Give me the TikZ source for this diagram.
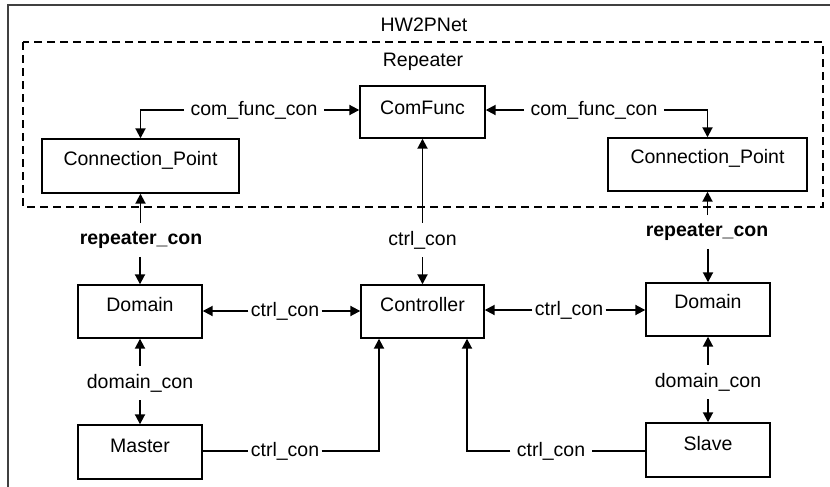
\documentclass[tikz,border=0pt]{standalone}
\usepackage{fontspec}
\setmainfont{Liberation Sans}
\usetikzlibrary{arrows.meta}
\begin{document}
\begin{tikzpicture}[x=0.5pt,y=-0.5pt,
  font=\fontsize{9.75}{11.7}\selectfont,
  box/.style={draw, line width=0.7pt, inner sep=0pt},
  txt/.style={inner sep=0pt},
  lbl/.style={inner xsep=3pt, inner ysep=4pt},
  lblt/.style={inner xsep=1pt, inner ysep=4pt},
  conn/.style={line width=0.95pt},
  arr/.style={conn, -{Triangle[length=5pt,width=5pt]}}
]
\useasboundingbox (0,0) rectangle (830,487);
\clip (0,0) rectangle (830,487);
% frames
\draw[line width=1pt, draw=black!75] (8,5) rectangle (850,510);
\node[txt] (tHW) at (424,25) {HW2PNet};
\draw[dashed, line width=0.65pt, dash pattern=on 4pt off 2.5pt] (23,42) rectangle (823,207);
\node[txt] (tRep) at (423,62) {Repeater};
% boxes
\node[box, minimum width=62.5pt, minimum height=26pt] (cf) at (422.5,112) {};
\node[txt] (tcf) at (422.5,108) {ComFunc};
\node[box, minimum width=98.5pt, minimum height=27pt] (cpl) at (140.5,166) {};
\node[txt] (tcpl) at (140.5,160) {Connection\_Point};
\node[box, minimum width=99.5pt, minimum height=26.5pt] (cpr) at (707.5,164.5) {};
\node[txt] (tcpr) at (707.5,158) {Connection\_Point};
\node[box, minimum width=62pt, minimum height=26.5pt] (dl) at (140,311.5) {};
\node[txt] (tdl) at (140,305) {Domain};
\node[box, minimum width=61.5pt, minimum height=26.5pt] (ct) at (422.5,311.5) {};
\node[txt] (tct) at (422.5,305) {Controller};
\node[box, minimum width=62pt, minimum height=26.5pt] (dr) at (708,309.5) {};
\node[txt] (tdr) at (708,302) {Domain};
\node[box, minimum width=62pt, minimum height=27pt] (ms) at (140,452) {};
\node[txt] (tms) at (140,446) {Master};
\node[box, minimum width=62pt, minimum height=27pt] (sl) at (708,450) {};
\node[txt] (tsl) at (708,444) {Slave};
% com_func_con
\node[lbl] (l1) at (254,110) {com\_func\_con};
\draw[arr] (l1.west) -| (cpl.north);
\draw[arr] (l1.east) -- (l1.east -| cf.west);
\node[lbl] (l2) at (594,110) {com\_func\_con};
\draw[arr] (l2.west) -- (l2.west -| cf.east);
\draw[arr] (l2.east) -| (cpr.north);
% repeater_con
\node[lbl, font=\fontsize{9.75}{11.7}\selectfont\bfseries] (r1) at (141,240) {repeater\_con};
\draw[arr] (r1.north -| cpl.south) -- (cpl.south);
\draw[arr] (r1.south -| dl.north) -- (dl.north);
\node[lbl, font=\fontsize{9.75}{11.7}\selectfont\bfseries] (r2) at (707,232) {repeater\_con};
\draw[arr] (r2.north -| cpr.south) -- (cpr.south);
\draw[arr] (r2.south -| dr.north) -- (dr.north);
% ctrl_con vertical
\node[lbl] (c1) at (422.5,240) {ctrl\_con};
\draw[arr] (c1.north) -- (cf.south);
\draw[arr] (c1.south) -- (ct.north);
% ctrl_con horizontal
\node[lblt] (c2) at (285,311) {ctrl\_con};
\draw[arr] (c2.west) -- (c2.west -| dl.east);
\draw[arr] (c2.east) -- (c2.east -| ct.west);
\node[lblt] (c3) at (569,310) {ctrl\_con};
\draw[arr] (c3.west) -- (c3.west -| ct.east);
\draw[arr] (c3.east) -- (c3.east -| dr.west);
% domain_con
\node[lbl] (d1) at (140,383) {domain\_con};
\draw[arr] (d1.north) -- (dl.south);
\draw[arr] (d1.south) -- (ms.north);
\node[lbl] (d2) at (708,382) {domain\_con};
\draw[arr] (d2.north) -- (dr.south);
\draw[arr] (d2.south) -- (sl.north);
% master/slave ctrl_con
\node[lblt] (c4) at (285,451) {ctrl\_con};
\coordinate (mc) at (379,451);
\draw[conn] (c4.west -| ms.east) -- (c4.west);
\draw[arr] (c4.east) -- (mc) -- (mc |- ct.south);
\node[lbl] (c5) at (551,451) {ctrl\_con};
\coordinate (sc) at (467,451);
\draw[conn] (c5.east -| sl.west) -- (c5.east);
\draw[arr] (c5.west) -- (sc) -- (sc |- ct.south);
\end{tikzpicture}
\end{document}
